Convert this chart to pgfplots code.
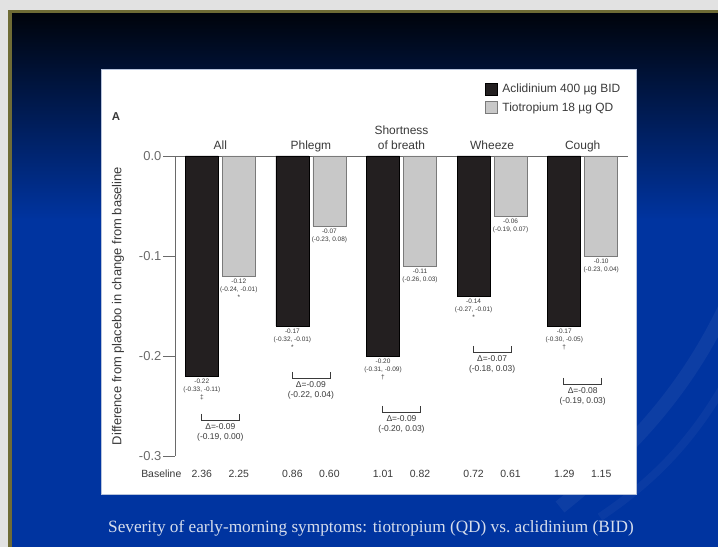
\documentclass[border=0pt]{standalone}
\usepackage{pgfplots}
\pgfplotsset{compat=1.18}
\usepackage{fontspec}
\setmainfont{Liberation Sans}
\newfontfamily\seriffont{Liberation Serif}
\definecolor{barblack}{HTML}{231F20}
\definecolor{bargrey}{HTML}{C8C8C8}
\definecolor{baredge}{HTML}{7A7A7A}
\definecolor{axisgrey}{HTML}{6A6A6A}
\definecolor{labgrey}{HTML}{3A3A3A}
\definecolor{outergrey}{HTML}{E2E2E2}
\definecolor{oliveband}{HTML}{6E6B35}
\definecolor{slidetop}{HTML}{00040C}
\definecolor{slideblue}{HTML}{0034A0}
\definecolor{captioncol}{HTML}{D6DDEC}
\definecolor{paneledge}{HTML}{B8C4DC}
\newcommand{\barlab}[3]{\node[lab] at (axis cs:#1,#2) {#3};}
\newcommand{\diffbr}[4]{%
  \draw[bracket] (axis cs:#1-0.21,#2+0.006) -- (axis cs:#1-0.21,#2) -- (axis cs:#1+0.21,#2) -- (axis cs:#1+0.21,#2+0.006);
  \node[dlab] at (axis cs:#1,#2) {Δ=#3\\#4};}
\begin{document}
\begin{tikzpicture}[x=1bp,y=1bp,
  lab/.style={anchor=north, align=center, inner sep=0pt, yshift=-3bp, font=\fontsize{6.5}{7.8}\selectfont, text=labgrey},
  dlab/.style={anchor=north, align=center, inner sep=0pt, yshift=-3bp, font=\fontsize{8.5}{10.5}\selectfont, text=labgrey},
  bracket/.style={draw=labgrey, line width=0.7bp},
  base/.style={anchor=center, font=\fontsize{10.5}{12}\selectfont, text=labgrey, yshift=-18bp},
  cat/.style={anchor=base, font=\fontsize{12}{14}\selectfont, text=labgrey}]
\path[use as bounding box] (0,0) rectangle (718,547);
\fill[outergrey] (0,0) rectangle (718,547);
\fill[oliveband] (8,0) rectangle (718,537);
\shade[top color=slidetop, bottom color=slideblue] (12,327) rectangle (718,533);
\fill[slideblue] (12,0) rectangle (718,327.5);
\begin{scope}
\clip (12,0) rectangle (718,533);
\draw[white, opacity=0.05, line width=14bp] (560,40) .. controls (660,120) and (720,200) .. (760,330);
\draw[white, opacity=0.04, line width=8bp] (600,30) .. controls (690,90) and (730,160) .. (770,260);
\end{scope}
\fill[white] (101,53) rectangle (636,478);
\draw[paneledge, line width=0.6bp] (101,53) rectangle (636,478);
\node[font=\bfseries\fontsize{11.5}{13}\selectfont, text=labgrey] at (116,430) {A};
\begin{axis}[
  at={(175bp,91bp)}, anchor=south west,
  scale only axis, width=453bp, height=300bp,
  xmin=-0.5, xmax=4.5, ymin=-0.3, ymax=0,
  axis y line*=left, axis x line*=top,
  xtick=\empty,
  ytick={-0.3,-0.2,-0.1,0}, yticklabels={-0.3,-0.2,-0.1,0.0},
  tick align=outside, major tick length=12bp,
  tick style={color=axisgrey, line width=0.8bp},
  axis line style={color=axisgrey, line width=0.8bp},
  yticklabel style={font=\fontsize{13}{15}\selectfont, text=axisgrey, inner sep=1.5bp},
  ylabel={Difference from placebo in change from baseline},
  ylabel style={font=\fontsize{13}{15}\selectfont, text=labgrey, at={(axis description cs:-0.126,0.5)}, anchor=center},
  clip=false,
  ybar, bar width=33bp,
  legend style={at={(axis description cs:0.684,1.245)}, anchor=north west, draw=none, fill=none,
    font=\fontsize{12}{14}\selectfont, text=labgrey, inner sep=0pt, row sep=6bp,
    nodes={inner sep=1bp}},
  legend cell align=left,
]
\addplot[fill=barblack, draw=black, line width=0.6bp, bar shift=-18.5bp,
  legend image code/.code={\draw[fill=barblack, draw=black, line width=0.6bp] (0bp,-6bp) rectangle (12bp,6bp); \path[draw=none, fill=none] (0bp,0bp) -- (16bp,0bp);}]
  coordinates {(0,-0.22) (1,-0.17) (2,-0.20) (3,-0.14) (4,-0.17)};
\addplot[fill=bargrey, draw=baredge, line width=0.8bp, bar shift=18.5bp,
  legend image code/.code={\draw[fill=bargrey, draw=baredge, line width=0.8bp] (0bp,-6bp) rectangle (12bp,6bp); \path[draw=none, fill=none] (0bp,0bp) -- (16bp,0bp);}]
  coordinates {(0,-0.12) (1,-0.07) (2,-0.11) (3,-0.06) (4,-0.10)};
\legend{Aclidinium 400 µg BID, Tiotropium 18 µg QD}
% category titles
\node[cat, yshift=6bp] at (axis cs:0,0) {All};
\node[cat, yshift=6bp] at (axis cs:1,0) {Phlegm};
\node[cat, yshift=6bp] at (axis cs:2,0) {of breath};
\node[cat, yshift=21bp] at (axis cs:2,0) {Shortness};
\node[cat, yshift=6bp] at (axis cs:3,0) {Wheeze};
\node[cat, yshift=6bp] at (axis cs:4,0) {Cough};
% bar labels
\barlab{-0.204}{-0.22}{-0.22\\(-0.33, -0.11)\\‡}
\barlab{0.204}{-0.12}{-0.12\\(-0.24, -0.01)\\*}
\barlab{0.796}{-0.17}{-0.17\\(-0.32, -0.01)\\*}
\barlab{1.204}{-0.07}{-0.07\\(-0.23, 0.08)}
\barlab{1.796}{-0.20}{-0.20\\(-0.31, -0.09)\\†}
\barlab{2.204}{-0.11}{-0.11\\(-0.26, 0.03)}
\barlab{2.796}{-0.14}{-0.14\\(-0.27, -0.01)\\*}
\barlab{3.204}{-0.06}{-0.06\\(-0.19, 0.07)}
\barlab{3.796}{-0.17}{-0.17\\(-0.30, -0.05)\\†}
\barlab{4.204}{-0.10}{-0.10\\(-0.23, 0.04)}
% difference brackets
\diffbr{0}{-0.264}{-0.09}{(-0.19, 0.00)}
\diffbr{1}{-0.222}{-0.09}{(-0.22, 0.04)}
\diffbr{2}{-0.256}{-0.09}{(-0.20, 0.03)}
\diffbr{3}{-0.196}{-0.07}{(-0.18, 0.03)}
\diffbr{4}{-0.228}{-0.08}{(-0.19, 0.03)}
% baseline row
\node[base] at (axis cs:-0.651,-0.3) {Baseline};
\node[base] at (axis cs:-0.204,-0.3) {2.36};
\node[base] at (axis cs:0.204,-0.3) {2.25};
\node[base] at (axis cs:0.796,-0.3) {0.86};
\node[base] at (axis cs:1.204,-0.3) {0.60};
\node[base] at (axis cs:1.796,-0.3) {1.01};
\node[base] at (axis cs:2.204,-0.3) {0.82};
\node[base] at (axis cs:2.796,-0.3) {0.72};
\node[base] at (axis cs:3.204,-0.3) {0.61};
\node[base] at (axis cs:3.796,-0.3) {1.29};
\node[base] at (axis cs:4.204,-0.3) {1.15};
\end{axis}
\node[font=\seriffont\fontsize{17.3}{20}\selectfont, text=captioncol] at (371,19) {Severity of early-morning symptoms: tiotropium (QD) vs.\ aclidinium (BID)};
\end{tikzpicture}
\end{document}
